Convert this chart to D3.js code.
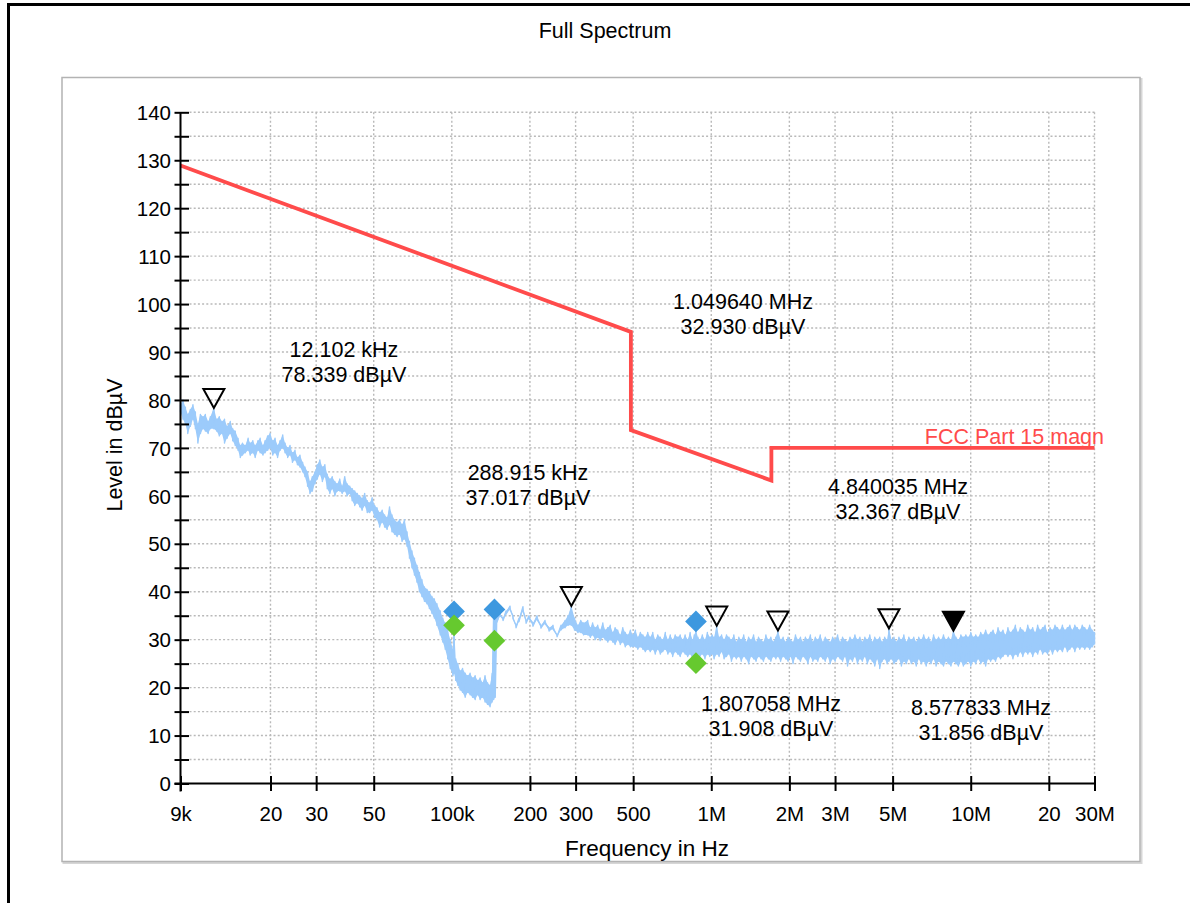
<!DOCTYPE html>
<html>
<head>
<meta charset="utf-8">
<script src="https://cdnjs.cloudflare.com/ajax/libs/d3/7.8.5/d3.min.js"></script>
<style>
  body { margin: 0; background: #fff; }
  svg { display: block; font-family: 'Liberation Sans', Arial, sans-serif; }
</style>
</head>
<body>
<div id="chart"></div>
<script>
// measured trace, frequency in kHz, upper / lower edge of the noise band in dBµV
const traceFreq = [
  9.0, 9.2, 9.4, 9.6, 9.82, 10.05, 10.27, 10.5, 10.74, 11.0, 11.22, 11.5, 11.73, 12.1, 12.4, 12.7, 13.0, 13.3, 13.6, 14.0,
  14.3, 14.63, 15.0, 15.3, 15.6, 16.0, 16.4, 16.7, 17.1, 17.46, 17.9, 18.25, 18.7, 19.07, 19.5, 19.93, 20.4, 20.83, 21.3, 21.78,
  22.3, 22.76, 23.3, 23.79, 24.3, 24.86, 25.4, 25.98, 26.6, 27.16, 27.8, 28.39, 29.0, 29.67, 30.3, 31.0, 31.7, 32.41, 33.1, 33.87,
  34.6, 35.4, 36.2, 37.0, 37.8, 38.67, 39.5, 40.42, 41.3, 42.24, 43.2, 44.15, 45.1, 46.15, 47.2, 48.23, 49.3, 50.41, 51.5, 52.68,
  53.9, 55.06, 56.3, 57.55, 58.8, 60.15, 61.5, 62.86, 64.3, 65.7, 67.2, 68.67, 70.2, 71.77, 73.4, 75.01, 76.7, 78.4, 80.2, 81.94,
  83.8, 85.64, 87.6, 90.25, 92.3, 94.33, 96.4, 98.6, 101, 102, 103.5, 105.5, 107.7, 110, 112.6, 115, 117.6, 120.2, 123, 125.7,
  128.5, 131.4, 134.3, 137.3, 140.4, 143, 145, 147, 149, 153.4, 157.6, 161.8, 167.6, 172, 176.8, 181.5, 188, 193.3, 198.3, 205.5,
  213, 220.6, 228.6, 237, 245.5, 254.5, 263.6, 273.2, 280.6, 288.9, 297, 306, 314, 322, 334, 342, 349, 357, 365, 373,
  382, 390, 399, 408, 417, 426, 436, 446, 456, 466, 477, 488, 498, 510, 521, 533, 545, 557, 569, 582,
  595, 608, 622, 636, 650, 665, 680, 695, 710, 726, 742, 759, 776, 793, 811, 829, 847, 860, 873, 888,
  903.6, 924, 945, 966, 987, 1008, 1025, 1049.6, 1072, 1096, 1120, 1145, 1170, 1196, 1222, 1249, 1277, 1305, 1334, 1363,
  1393, 1424, 1456, 1488, 1521, 1555, 1589, 1624, 1660, 1697, 1735, 1773, 1807, 1850, 1892, 1934, 1977, 2021, 2066, 2112,
  2159, 2207, 2256, 2306, 2357, 2410, 2463, 2518, 2574, 2631, 2690, 2750, 2811, 2873, 2937, 3002, 3069, 3137, 3207, 3278,
  3351, 3425, 3501, 3579, 3659, 3740, 3823, 3908, 3995, 4084, 4175, 4267, 4362, 4459, 4558, 4660, 4763, 4840, 4950, 5060,
  5173, 5288, 5405, 5525, 5648, 5774, 5902, 6033, 6167, 6304, 6445, 6588, 6734, 6884, 7037, 7194, 7354, 7517, 7684, 7855,
  8030, 8208, 8390, 8578, 8770, 8965, 9164, 9368, 9576, 9789, 10006, 10229, 10456, 10688, 10926, 11168, 11417, 11670, 11930, 12195,
  12466, 12743, 13026, 13316, 13612, 13914, 14223, 14540, 14863, 15193, 15531, 15876, 16229, 16590, 16958, 17335, 17721, 18114, 18517, 18928,
  19349, 19779, 20219, 20668, 21127, 21597, 22077, 22567, 23069, 23582, 24106, 24641, 25189, 25749, 26321, 26906, 27504, 28115, 28740, 29379,
  30000
];
const traceHi = [
  79, 80, 78.5, 77, 78, 79, 77.5, 75, 77, 76.5, 77, 75.5, 76.5, 78.3, 76, 76.5, 75.5, 76, 74.5, 75.5,
  74, 73.5, 72, 70.5, 71, 70.5, 72, 71, 71.5, 70.5, 71.5, 72, 70.5, 71.5, 72.5, 73, 71.5, 72, 70.5, 71.5,
  72.7, 71, 70, 70.5, 69, 69.5, 68, 68.5, 67, 66, 65, 63, 64, 65, 66.5, 67.5, 66, 66.5, 64.5, 63.5,
  64, 63, 62.5, 63.5, 62, 64, 62.5, 62, 61.5, 61, 60.5, 60, 59.5, 60.5, 59, 58.5, 59.6, 58, 57.5, 56.5,
  57, 56, 55.5, 57.7, 56, 55, 54.5, 55, 54, 55, 52.5, 50.5, 48.5, 47, 45.5, 44, 42.5, 41, 40.5, 40,
  39, 38.5, 37.5, 36, 34.5, 33.5, 32, 30, 28, 33, 26, 25, 23.5, 24, 23, 22.5, 23, 22, 22.5, 21.5,
  22, 21, 22.5, 21, 20.5, 23, 36, 35, 34.5, 35.5, 34.5, 36, 37, 35, 33, 34.5, 36.9, 34, 35, 33.5,
  35, 33, 34, 32.5, 33, 31, 33, 34, 35, 37, 34.5, 33, 34, 33.5, 34, 32.5, 33.5, 32.5, 33, 32,
  33.5, 32, 32.5, 33, 31.5, 32.5, 32, 31, 32.5, 31.5, 31, 32, 31, 32, 30.5, 31.5, 31, 30.5, 31.5, 30.5,
  31.5, 30, 31, 30.5, 30, 31.5, 30, 31, 30, 31, 30.5, 31, 30, 31, 30, 31.5, 30, 31, 32, 30.5,
  30, 31, 30, 31.5, 30.5, 31, 30.5, 32.9, 30.5, 31, 30, 31, 30.5, 30, 31, 29.5, 30.5, 30, 31, 29.5,
  30.5, 30, 31, 29.5, 30.5, 30, 29.5, 31, 30, 30.5, 29.5, 30.5, 31.9, 30, 30.5, 29.5, 30.5, 30, 29.5, 31,
  30, 30.5, 29.5, 30.5, 30, 31, 29.5, 30.5, 30, 31, 29.5, 30.5, 30, 29.5, 30.5, 30, 31, 29.5, 30.5, 30,
  29.5, 30.5, 30, 31, 30, 30.5, 29.5, 30.5, 30, 31, 29.5, 30.5, 30, 30.5, 29.5, 30.5, 30, 32.4, 30, 30.5,
  29.5, 30.5, 30, 31, 29.5, 30.5, 30, 30.5, 29.5, 30.5, 30, 31, 30, 30.5, 29.5, 31, 30, 30.5, 30, 31,
  30, 30.5, 30, 31.9, 30.5, 30, 31, 30.5, 31, 30.5, 31.5, 30.5, 31, 30.5, 31.5, 31, 32, 31, 31.5, 32,
  31, 32.5, 31.5, 32, 31, 32.5, 31.5, 32, 33, 31.5, 32.5, 32, 31.5, 33, 32, 32.5, 31.5, 33, 32, 32.5,
  33, 31.5, 32.5, 32, 33, 32.5, 32, 33, 32, 32.5, 33, 32, 33, 32.5, 32, 33, 32.5, 32, 33, 32,
  31.5
];
const traceLo = [
  77.5, 76, 75, 73, 74.5, 76, 74, 71, 73, 74, 73.5, 73, 74, 74, 73.5, 72.5, 73, 71, 72, 73,
  71.5, 70.5, 69.5, 68, 68.5, 69, 69.5, 68.5, 69, 68, 69.5, 69, 68.5, 69, 69.5, 70, 68.5, 69, 68, 69.5,
  70, 69, 68, 68.5, 67, 67.5, 66.5, 66, 65, 64, 62, 60.5, 61, 62.5, 63.5, 64.5, 63, 64, 61.5, 60.5,
  61.5, 60, 61, 61, 60.5, 61, 60, 60.5, 59, 58, 58.5, 57.7, 57, 58, 56.5, 56.5, 57, 55.5, 55, 53.5,
  54.5, 53.5, 53, 54, 52.5, 52, 51.5, 52, 50.5, 51, 49.5, 47, 45, 43.5, 42, 40, 39, 38, 37.5, 36.5,
  35.5, 34.5, 33, 31, 29.5, 28, 26, 24, 22.5, 23, 21.5, 20.5, 19.5, 19, 18, 19, 18.5, 18, 17.5, 18.5,
  17.5, 18, 17, 16.5, 16, 17, 17.5, 18, 33.5, 35, 34, 35.3, 36.3, 34.4, 32.5, 33.8, 36, 33.4, 34.4, 32.8,
  34.2, 32.4, 33.3, 31.8, 32.2, 30.6, 32, 32.5, 33, 33, 32, 31.5, 31.5, 31, 31, 30.5, 31, 30, 30.5, 29.8,
  30.5, 30, 29.5, 30, 29.5, 29, 30, 29, 29.5, 28.5, 29, 28.5, 28.5, 28.5, 28, 28.5, 28, 27.5, 28, 27.5,
  28, 27, 28, 27, 27.5, 28, 27, 27.5, 26.5, 27.5, 27, 26.5, 27.5, 27, 26.5, 27, 26, 26.5, 26.5, 27,
  26.5, 27, 26, 27, 26.5, 27, 26, 27, 26.5, 27.5, 26, 26.5, 27, 25.5, 26.5, 26, 26.5, 25.5, 26.5, 26,
  25, 26.5, 26, 25.5, 26.5, 26, 25.5, 26.5, 26, 25.5, 26.5, 26, 26.5, 25.5, 26.5, 26, 25.5, 26.5, 25, 26.5,
  26, 25.5, 26.5, 26, 25, 26.5, 25.5, 26, 25.5, 26.5, 26, 25.5, 26.5, 25, 26, 25.5, 26.5, 26, 25.5, 26.5,
  24.5, 26, 25.5, 26.5, 25, 26, 25.5, 26.5, 25, 26, 25.5, 24.5, 26, 24, 25.5, 26, 25, 25.5, 26, 25,
  25.5, 26, 24.5, 25.5, 25, 26, 25, 25.5, 24.5, 26, 25, 25.5, 24.5, 25.5, 25, 26, 24.5, 25.5, 25, 24.5,
  25.5, 25, 24.5, 25.5, 25, 24.5, 25.5, 24.5, 25, 25.5, 24.5, 25.5, 25, 26, 25, 25.5, 24.5, 26, 25.5, 26,
  25.5, 26.5, 26, 26.5, 27, 26.5, 27, 26, 27, 26.5, 27.5, 26.5, 27.5, 27, 27.5, 26.5, 27.5, 27, 28, 27,
  27.5, 27, 28, 27, 28, 27.5, 28, 27.5, 28.5, 27.5, 28, 28.5, 27.5, 28.5, 28, 28.5, 28, 28.5, 28, 28.5,
  29
];

// FCC Part 15 limit, kHz / dBµV
const limitFreq = [9, 490, 490, 1705, 1705, 30000];
const limitLevel = [128.9, 94.2, 73.7, 63.2, 70, 70];

// peak markers
const markerFreq = [12.102, 288.915, 1049.640, 1807.058, 4840.035, 8577.833];
const markerLevel = [78.339, 37.017, 32.930, 31.908, 32.367, 31.856];
const markerFreqText = ['12.102 kHz', '288.915 kHz', '1.049640 MHz', '1.807058 MHz', '4.840035 MHz', '8.577833 MHz'];
const markerLevelText = ['78.339 dBµV', '37.017 dBµV', '32.930 dBµV', '31.908 dBµV', '32.367 dBµV', '31.856 dBµV'];
const markerActive = [false, false, false, false, false, true];

// final measurement points (blue = QP, green = AV)
const finalFreq = [102, 146, 873];
const finalQP = [35.9, 36.3, 33.8];
const finalAV = [33.0, 29.8, 25.1];

// axis ticks
const xTickKHz = [9, 20, 30, 50, 100, 200, 300, 500, 1000, 2000, 3000, 5000, 10000, 20000, 30000];
const xTickLabels = ['9k', '20', '30', '50', '100k', '200', '300', '500', '1M', '2M', '3M', '5M', '10M', '20', '30M'];
const yTicks = [0, 5, 10, 15, 20, 25, 30, 35, 40, 45, 50, 55, 60, 65, 70, 75, 80, 85, 90, 95, 100, 105, 110, 115, 120, 125, 130, 135, 140];
const yLabels = [0, 10, 20, 30, 40, 50, 60, 70, 80, 90, 100, 110, 120, 130, 140];

// label placement (pixels) for the marker readouts
const readoutPos = [[344, 349], [528, 472], [743, 301], [771, 703], [898, 486], [981, 707]];

const W = 1190, H = 903;
const svg = d3.select('#chart').append('svg')
  .attr('width', W)
  .attr('height', H);

const x = d3.scaleLog().domain([9, 30000]).range([180.5, 1094.5]);
const y = d3.scaleLinear().domain([0, 140]).range([783.5, 112.3]);

// frames
svg.append('rect')
  .attr('x', 8.5).attr('y', 4.5)
  .attr('width', 1200).attr('height', 1000)
  .attr('fill', 'none').attr('stroke', '#000').attr('stroke-width', 3);
svg.append('rect')
  .attr('x', 63.5).attr('y', 79)
  .attr('width', 1078).attr('height', 784)
  .attr('fill', 'none').attr('stroke', '#d6d6d6').attr('stroke-width', 2);
svg.append('rect')
  .attr('x', 62).attr('y', 77.5)
  .attr('width', 1078).attr('height', 784)
  .attr('fill', '#fff').attr('stroke', '#b3b3b3').attr('stroke-width', 1.5);

svg.append('text')
  .attr('x', 605).attr('y', 30).attr('dy', '0.35em')
  .attr('text-anchor', 'middle')
  .style('font-size', '21.5px')
  .text('Full Spectrum');

// grid
const grid = svg.append('g')
  .attr('stroke', '#b9b9b9')
  .attr('stroke-width', 1.4)
  .attr('stroke-dasharray', '2,2.2');
grid.selectAll('.hg')
  .data(yTicks.filter(d => d > 0))
  .enter().append('line')
  .attr('x1', x(9) + 9).attr('x2', x(30000))
  .attr('y1', d => y(d)).attr('y2', d => y(d));
grid.selectAll('.vg')
  .data(xTickKHz.slice(1))
  .enter().append('line')
  .attr('x1', d => x(d)).attr('x2', d => x(d))
  .attr('y1', y(140)).attr('y2', y(0) - 8);

// trace
const tracePts = [];
traceFreq.forEach(function (f, i) {
  tracePts.push([f, traceHi[i]]);
  tracePts.push([f, traceLo[i]]);
});
svg.append('path')
  .datum(traceFreq.map((f, i) => [f, traceHi[i], traceLo[i]]))
  .attr('fill', '#9ccbfb')
  .attr('d', d3.area().x(d => x(d[0])).y0(d => y(d[2])).y1(d => y(d[1])));
svg.append('path')
  .datum(tracePts)
  .attr('fill', 'none')
  .attr('stroke', '#9ccbfb')
  .attr('stroke-width', 1.4)
  .attr('stroke-linejoin', 'round')
  .attr('d', d3.line().x(d => x(d[0])).y(d => y(d[1])));

// limit line
svg.append('path')
  .datum(limitFreq.map((f, i) => [f, limitLevel[i]]))
  .attr('fill', 'none')
  .attr('stroke', '#ff4b4b')
  .attr('stroke-width', 3.8)
  .attr('d', d3.line().x(d => x(d[0])).y(d => y(d[1])));
svg.append('text')
  .attr('x', 1104).attr('y', y(70) - 4)
  .attr('text-anchor', 'end')
  .attr('fill', '#ff4b4b')
  .style('font-size', '21.5px')
  .text('FCC Part 15 magn');

// axes
const xAxis = svg.append('g')
  .attr('transform', 'translate(0,' + y(0) + ')')
  .call(d3.axisBottom(x).tickValues(xTickKHz).tickFormat((d, i) => xTickLabels[i]));
xAxis.select('.domain').remove();
xAxis.selectAll('.tick line').attr('y1', -7.5).attr('y2', 7.5).attr('stroke-width', 2);
xAxis.selectAll('.tick text')
  .attr('y', 30).attr('dy', '0.35em')
  .style('font-size', '20.5px').attr('fill', '#000');

const yAxis = svg.append('g')
  .attr('transform', 'translate(' + x(9) + ',0)')
  .call(d3.axisLeft(y).tickValues(yTicks).tickFormat(d => yLabels.includes(d) ? d : ''));
yAxis.select('.domain').remove();
yAxis.selectAll('.tick line').attr('x1', -6).attr('x2', 8.5).attr('stroke-width', 2);
yAxis.selectAll('.tick text')
  .attr('x', -9.5).attr('dy', '0.35em')
  .style('font-size', '20.5px').attr('fill', '#000');
xAxis.attr('font-family', null).attr('font-size', null);
yAxis.attr('font-family', null).attr('font-size', null);

svg.append('line')
  .attr('x1', x(9) - 6).attr('x2', x(30000))
  .attr('y1', y(0)).attr('y2', y(0))
  .attr('stroke', '#000').attr('stroke-width', 2);
svg.append('line')
  .attr('x1', x(9)).attr('x2', x(9))
  .attr('y1', y(140)).attr('y2', y(0) + 8)
  .attr('stroke', '#000').attr('stroke-width', 2);

svg.append('text')
  .attr('x', 647).attr('y', 848).attr('dy', '0.35em')
  .attr('text-anchor', 'middle')
  .style('font-size', '22.5px')
  .text('Frequency in Hz');
svg.append('text')
  .attr('transform', 'translate(114,445) rotate(-90)')
  .attr('dy', '0.35em')
  .attr('text-anchor', 'middle')
  .style('font-size', '21.5px')
  .text('Level in dBµV');

// final measurement diamonds
const diamond = d3.symbol().type(d3.symbolDiamond2).size(300);
svg.selectAll('.qp')
  .data(finalFreq)
  .enter().append('path')
  .attr('d', diamond)
  .attr('transform', (d, i) => 'translate(' + x(d) + ',' + y(finalQP[i]) + ')')
  .attr('fill', '#3d98df');
svg.selectAll('.av')
  .data(finalFreq)
  .enter().append('path')
  .attr('d', diamond)
  .attr('transform', (d, i) => 'translate(' + x(d) + ',' + y(finalAV[i]) + ')')
  .attr('fill', '#66c92f');

// peak markers
svg.selectAll('.mk')
  .data(markerFreq)
  .enter().append('path')
  .attr('d', 'M-10.5,-19L10.5,-19L0,0Z')
  .attr('transform', (d, i) => 'translate(' + x(d) + ',' + y(markerLevel[i]) + ')')
  .attr('fill', (d, i) => markerActive[i] ? '#000' : 'none')
  .attr('stroke', '#000')
  .attr('stroke-width', 2)
  .attr('stroke-linejoin', 'miter');

const readout = svg.selectAll('.ro')
  .data(markerFreqText)
  .enter().append('text')
  .attr('text-anchor', 'middle')
  .style('font-size', '21.5px');
readout.append('tspan')
  .attr('x', (d, i) => readoutPos[i][0])
  .attr('y', (d, i) => readoutPos[i][1])
  .attr('dy', '0.35em')
  .text(d => d);
readout.append('tspan')
  .attr('x', (d, i) => readoutPos[i][0])
  .attr('y', (d, i) => readoutPos[i][1] + 25)
  .attr('dy', '0.35em')
  .text((d, i) => markerLevelText[i]);
</script>
</body>
</html>
